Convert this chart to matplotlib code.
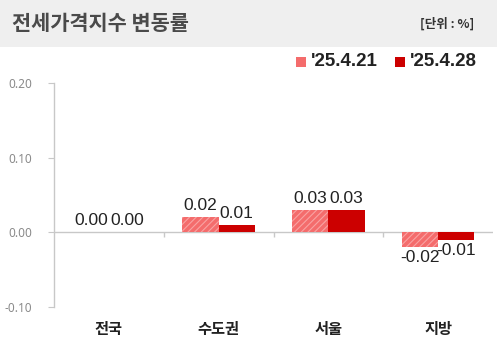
import matplotlib
matplotlib.use("Agg")
import matplotlib.pyplot as plt
from matplotlib.patches import Rectangle
import numpy as np

categories = ["전국", "수도권", "서울", "지방"]
series_names = ["'25.4.21", "'25.4.28"]
values_0421 = [0.00, 0.02, 0.03, -0.02]
values_0428 = [0.00, 0.01, 0.03, -0.01]
yticks = [-0.10, 0.00, 0.10, 0.20]
ytick_labels = ["-0.10", "0.00", "0.10", "0.20"]

W, H = 497, 356
plt.rcParams["hatch.color"] = "#f9a3a3"
plt.rcParams["hatch.linewidth"] = 0.8
fig = plt.figure(figsize=(W / 100, H / 100), dpi=100)
fig.patch.set_facecolor("white")

KR = ["Noto Sans CJK KR", "DejaVu Sans"]
NUM = ["Liberation Sans", "DejaVu Sans"]

# header band
fig.patches.append(Rectangle((0, (H - 47) / H), 1, 47 / H, transform=fig.transFigure,
                             facecolor="#efefef", edgecolor="none", zorder=0))
fig.text(12 / W, 1 - 24 / H, "전세가격지수 변동률", family=KR, fontsize=15, fontweight="bold",
         color="#4a4a4a", va="center", ha="left")
fig.text(474 / W, 1 - 24 / H, "[단위 : %]", family=KR, fontsize=9, fontweight="bold",
         color="#333333", va="center", ha="right")

ax = fig.add_axes([54 / W, (H - 307) / H, (493 - 54) / W, (307 - 83) / H])
x = np.arange(len(categories)) + 0.5
bw = 0.33
c1, c2 = "#f46c6c", "#cc0000"
ax.bar(x - bw / 2, values_0421, bw, color=c1, edgecolor="#f9a3a3", linewidth=0,
       hatch="/////", zorder=3)
ax.bar(x + bw / 2, values_0428, bw, color=c2, edgecolor="none", linewidth=0, zorder=3)

for xs, vals in ((x - bw / 2, values_0421), (x + bw / 2, values_0428)):
    for xi, v in zip(xs, vals):
        if v >= 0:
            ax.annotate(f"{v:.2f}", (xi, v), xytext=(0, 3), textcoords="offset points",
                        ha="center", va="bottom", family=NUM, fontsize=12.5, color="#222222")
        else:
            ax.annotate(f"{v:.2f}", (xi, v), xytext=(0, -2),
                        textcoords="offset points", ha="center", va="top",
                        family=NUM, fontsize=12.5, color="#222222")

ax.set_xlim(0, len(categories))
ax.set_ylim(-0.10, 0.20)
ax.axhline(0, color="#c8c8c8", lw=1.0, zorder=2)
ax.vlines(np.arange(1, len(categories)), -0.006, 0, color="#c8c8c8", lw=1.0, zorder=2)

for s in ["top", "right", "bottom"]:
    ax.spines[s].set_visible(False)
ax.spines["left"].set_color("#c8c8c8")
ax.spines["left"].set_linewidth(1.0)
ax.set_yticks(yticks)
ax.set_yticklabels(ytick_labels, family=["Noto Sans", "DejaVu Sans"], fontsize=8.5, color="#8a8a8a")
ax.tick_params(axis="y", length=4, color="#c8c8c8", pad=12)
ax.set_xticks([])
for xi, cat in zip(x, categories):
    ax.text(xi, -0.13, cat, ha="center", va="center", family=KR, fontsize=11,
            fontweight="bold", color="#222222", transform=ax.transData, clip_on=False)

# legend
fig.patches.append(Rectangle((296 / W, 1 - 67 / H), 10 / W, 10 / H, transform=fig.transFigure,
                             facecolor=c1, edgecolor="none"))
fig.text(311 / W, 1 - 62 / H, series_names[0], family=NUM, fontsize=13.5, fontweight="bold",
         color="#222222", va="center", ha="left")
fig.patches.append(Rectangle((395 / W, 1 - 67 / H), 10 / W, 10 / H, transform=fig.transFigure,
                             facecolor=c2, edgecolor="none"))
fig.text(410 / W, 1 - 62 / H, series_names[1], family=NUM, fontsize=13.5, fontweight="bold",
         color="#222222", va="center", ha="left")

fig.savefig("out.png", dpi=100)
